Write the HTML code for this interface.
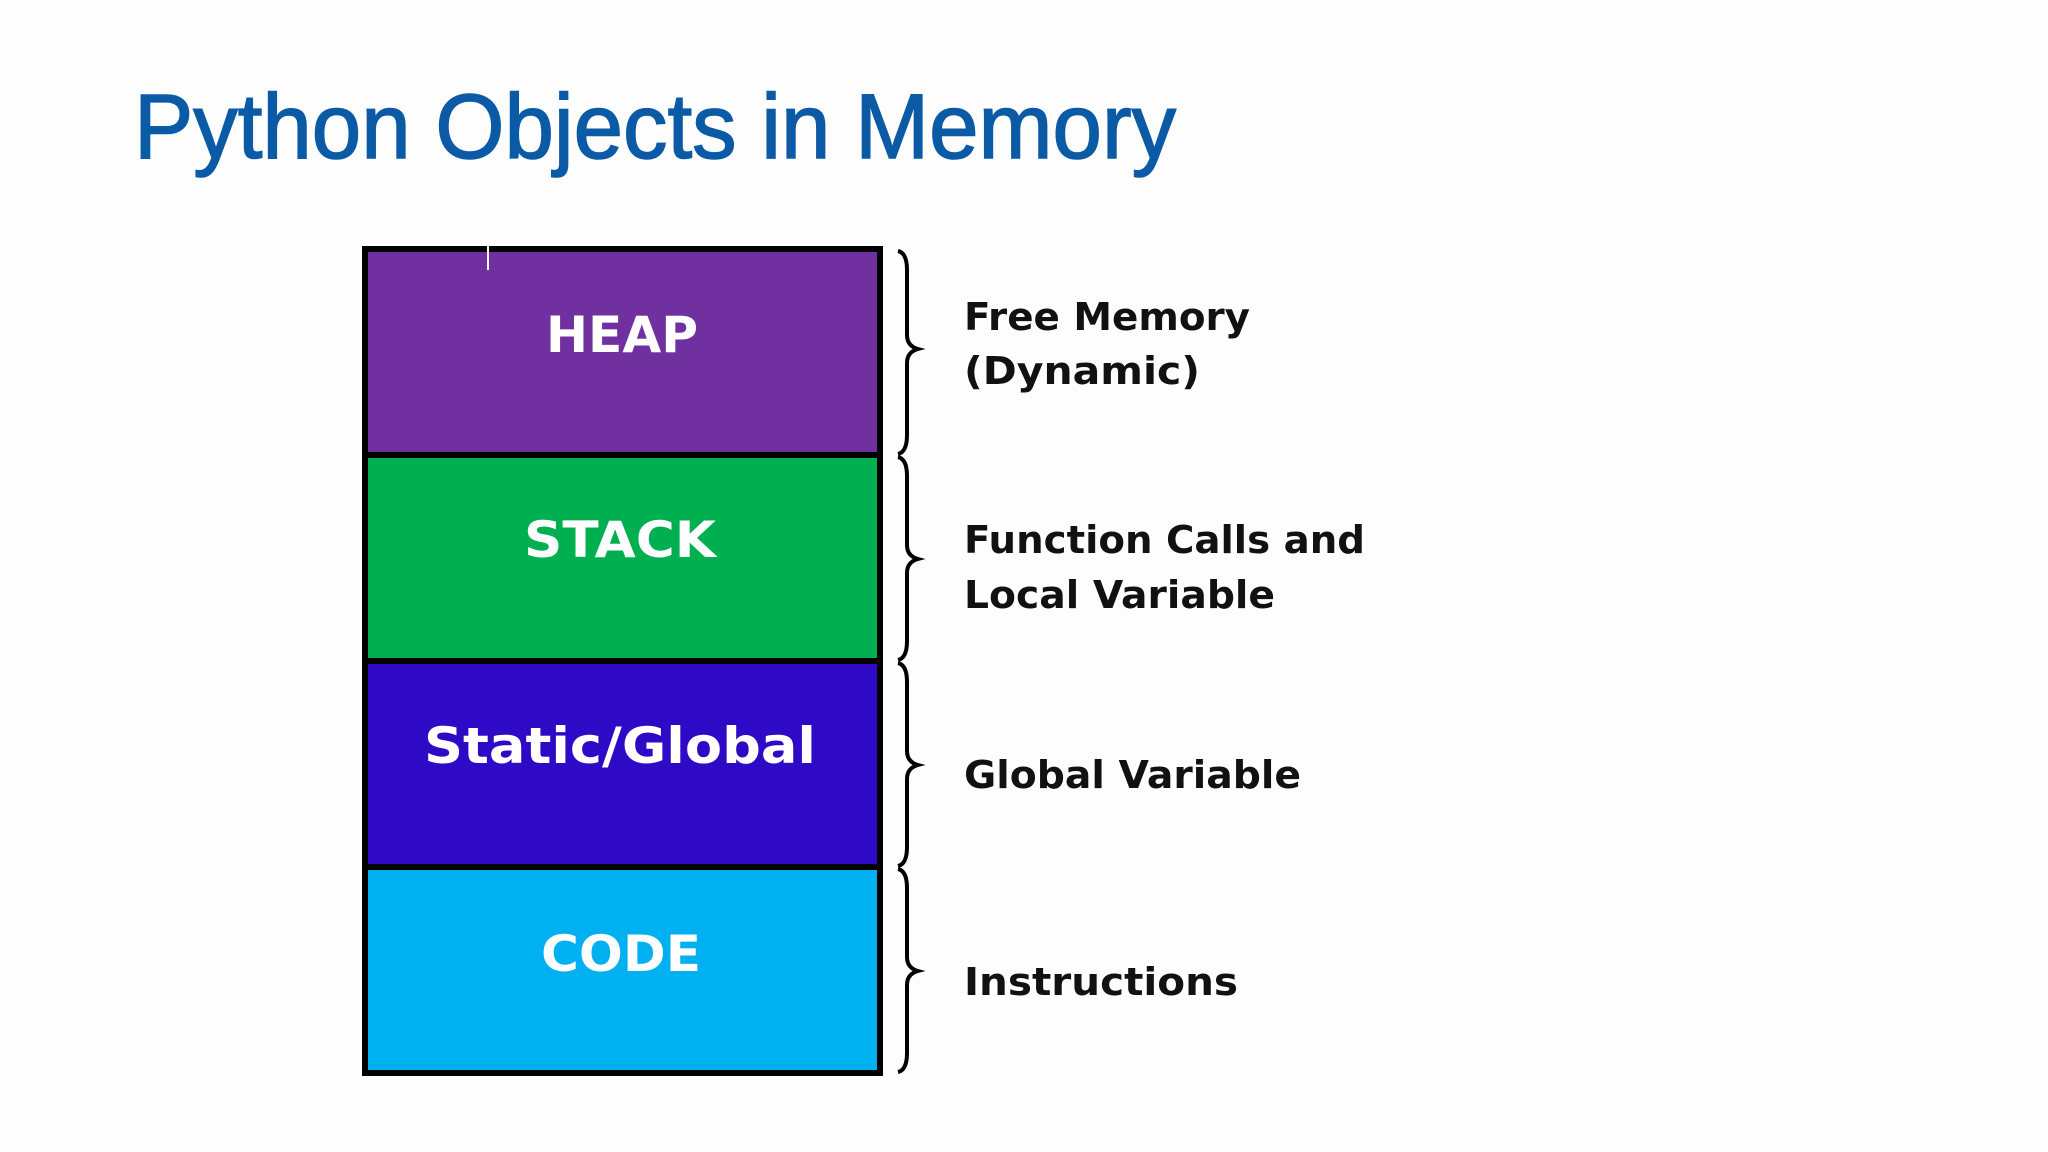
<!DOCTYPE html>
<html><head><meta charset="utf-8"><style>html,body{margin:0;padding:0;background:#fdfdfd}svg{display:block}</style></head>
<body>
<svg width="2048" height="1152" viewBox="0 0 2048 1152" xmlns="http://www.w3.org/2000/svg">
<rect width="2048" height="1152" fill="#fdfdfd"/>
<text x="134" y="158" font-family="Liberation Sans, sans-serif" font-size="92" fill="#0b5aa6" stroke="#0b5aa6" stroke-width="1.5" textLength="1042" lengthAdjust="spacingAndGlyphs">Python Objects in Memory</text>
<rect x="365" y="249" width="515" height="206" fill="#7030a0"/>
<rect x="365" y="455" width="515" height="206" fill="#00b050"/>
<rect x="365" y="661" width="515" height="206" fill="#2e0ac6"/>
<rect x="365" y="867" width="515" height="206" fill="#00b0f0"/>
<g stroke="#000" stroke-width="6" fill="none">
<rect x="365" y="249" width="515" height="824"/>
<line x1="365" y1="455" x2="880" y2="455"/>
<line x1="365" y1="661" x2="880" y2="661"/>
<line x1="365" y1="867" x2="880" y2="867"/>
</g>
<line x1="488" y1="235" x2="488" y2="270" stroke="#fff" stroke-width="2"/>
<g font-family="DejaVu Sans, sans-serif" font-weight="bold" font-size="50" fill="#fff" text-anchor="middle">
<text x="622" y="352" textLength="152" lengthAdjust="spacingAndGlyphs">HEAP</text>
<text x="620" y="557" textLength="192" lengthAdjust="spacingAndGlyphs">STACK</text>
<text x="620" y="763" textLength="392" lengthAdjust="spacingAndGlyphs">Static/Global</text>
<text x="621" y="971" textLength="160" lengthAdjust="spacingAndGlyphs">CODE</text>
</g>
<g stroke="#000" stroke-width="4" fill="none">
<path d="M898 251 Q907 253 907 270 L907 335 Q907 346 918 349 Q907 352 907 363 L907 435 Q907 452 898 454"/>
<path d="M898 457 Q907 459 907 476 L907 545 Q907 556 918 559 Q907 562 907 573 L907 641 Q907 658 898 660"/>
<path d="M898 663 Q907 665 907 682 L907 751 Q907 762 918 765 Q907 768 907 779 L907 847 Q907 864 898 866"/>
<path d="M898 869 Q907 871 907 888 L907 957 Q907 968 918 971 Q907 974 907 985 L907 1053 Q907 1070 898 1072"/>
</g>
<g font-family="DejaVu Sans, sans-serif" font-weight="bold" font-size="38" fill="#111">
<text x="964" y="330" textLength="286" lengthAdjust="spacingAndGlyphs">Free Memory</text>
<text x="964" y="384" textLength="236" lengthAdjust="spacingAndGlyphs">(Dynamic)</text>
<text x="964" y="553" textLength="401" lengthAdjust="spacingAndGlyphs">Function Calls and</text>
<text x="964" y="608" textLength="311" lengthAdjust="spacingAndGlyphs">Local Variable</text>
<text x="964" y="788" textLength="337" lengthAdjust="spacingAndGlyphs">Global Variable</text>
<text x="964" y="995" textLength="274" lengthAdjust="spacingAndGlyphs">Instructions</text>
</g>
</svg>
</body></html>
